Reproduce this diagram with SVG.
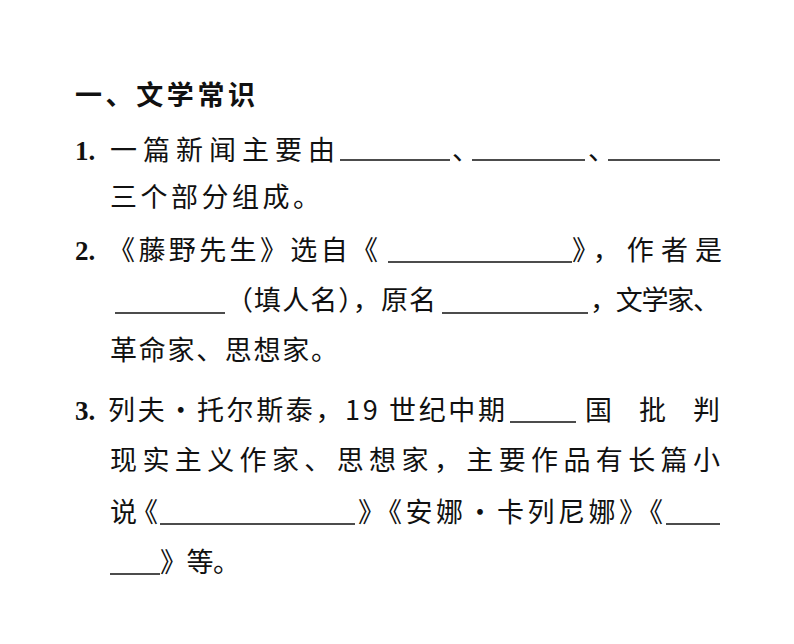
<svg xmlns="http://www.w3.org/2000/svg" width="794" height="644" viewBox="0 0 794 644">
<style>
text{font-family:"Noto Sans CJK SC","Noto Sans",sans-serif;font-size:27px;fill:#111}
.b{font-weight:bold;font-family:"Liberation Serif","Noto Sans CJK SC",serif}
line{stroke:#111;stroke-width:1.3}
</style>
<rect width="794" height="644" fill="#fff"/>
<text x="75" y="105" font-weight="bold" textLength="180">一、文学常识</text>
<text class="b" x="75" y="160">1.</text>
<text x="110" y="160" textLength="225">一篇新闻主要由</text>
<line x1="340" y1="160" x2="450" y2="160"/>
<text x="452" y="160">、</text>
<line x1="472" y1="160" x2="585" y2="160"/>
<text x="588" y="160">、</text>
<line x1="608" y1="160" x2="720" y2="160"/>
<text x="110" y="207" textLength="210">三个部分组成。</text>
<text class="b" x="75" y="260">2.</text>
<text x="108" y="260" textLength="270">《藤野先生》选自《</text>
<line x1="388" y1="262" x2="572" y2="262"/>
<text x="572" y="260" textLength="150">》，作者是</text>
<line x1="115" y1="313" x2="225" y2="313"/>
<text x="226" y="310" textLength="210">（填人名），原名</text>
<line x1="442" y1="313" x2="588" y2="313"/>
<text x="590" y="310" textLength="130">，文学家、</text>
<text x="110" y="360" textLength="228">革命家、思想家。</text>
<text class="b" x="75" y="420">3.</text>
<text x="108" y="420" textLength="397">列夫・托尔斯泰，19 世纪中期</text>
<line x1="510" y1="422" x2="576" y2="422"/>
<text x="585" y="420" textLength="135">国批判</text>
<text x="110" y="470" textLength="610">现实主义作家、思想家，主要作品有长篇小</text>
<text x="110" y="522" textLength="48">说《</text>
<line x1="160" y1="524" x2="355" y2="524"/>
<text x="358" y="522" textLength="305">》《安娜・卡列尼娜》《</text>
<line x1="666" y1="524" x2="720" y2="524"/>
<line x1="110" y1="574" x2="160" y2="574"/>
<text x="160" y="572" textLength="80">》等。</text>
</svg>
